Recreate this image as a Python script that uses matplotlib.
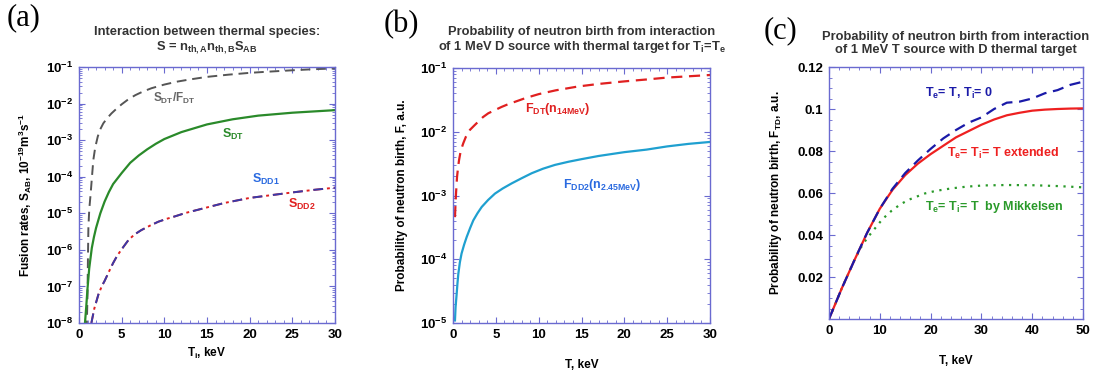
import numpy as np
import matplotlib
matplotlib.use('Agg')
import matplotlib.pyplot as plt
from matplotlib.ticker import MultipleLocator, FixedLocator, NullFormatter

plt.rcParams['font.family'] = ['Liberation Sans', 'DejaVu Sans']
plt.rcParams['font.weight'] = 'bold'
plt.rcParams['axes.titleweight'] = 'bold'
plt.rcParams['axes.labelweight'] = 'bold'
plt.rcParams['mathtext.fontset'] = 'custom'
plt.rcParams['mathtext.rm'] = 'Liberation Sans:bold'
plt.rcParams['mathtext.bf'] = 'Liberation Sans:bold'
plt.rcParams['mathtext.it'] = 'Liberation Sans:bold'
plt.rcParams['mathtext.default'] = 'bf'

# ---- panel (a): thermal fusion rates (log10 values) ----
a_t_sdtf = [0.9, 1.0, 1.05, 1.1, 1.2, 1.37, 1.52, 1.68, 1.9, 2.2, 2.5, 2.85, 3.3, 3.8, 4.4,
            5.0, 5.8, 6.6, 7.5, 8.5, 10, 11.5, 13, 15, 17.5, 20, 22, 25, 27.5, 30]
a_log_sdtf = [-8.2, -7.2, -6.2, -5.4, -4.9, -4.45, -4.0, -3.54, -3.2, -2.9, -2.7, -2.54,
              -2.4, -2.27, -2.14, -2.02, -1.88, -1.77, -1.67, -1.58, -1.48, -1.40, -1.34,
              -1.27, -1.21, -1.16, -1.13, -1.09, -1.06, -1.04]
a_t_sdt = [0.7, 0.85, 1.0, 1.2, 1.5, 1.75, 2.0, 2.5, 3.0, 3.5, 4.0, 5.0, 6.0, 7.0, 8.0, 9.0,
           10, 12, 15, 18, 21, 25, 30]
a_log_sdt = [-8.0, -7.55, -7.05, -6.5, -5.95, -5.65, -5.4, -5.0, -4.68, -4.42, -4.2, -3.9,
             -3.62, -3.42, -3.25, -3.1, -2.97, -2.78, -2.57, -2.43, -2.33, -2.25, -2.18]
a_t_sdd = [1.45, 1.8, 2.3, 2.7, 3.0, 3.5, 4.0, 4.5, 5.2, 5.8, 6.5, 7.3, 8.3, 9.3, 10.3, 11.3,
           12.5, 14, 15.5, 17, 18.5, 20, 22, 25, 27.5, 30]
a_log_sdd = [-8.0, -7.6, -7.2, -6.98, -6.85, -6.6, -6.36, -6.15, -5.92, -5.73, -5.58, -5.46,
             -5.34, -5.23, -5.15, -5.08, -4.99, -4.9, -4.81, -4.72, -4.65, -4.58, -4.52,
             -4.43, -4.36, -4.3]

# ---- panel (b): 1 MeV D source ----
b_t_fdt = [0.23, 0.3, 0.35, 0.42, 0.47, 0.6, 0.7, 0.9, 1.2, 1.5, 1.98, 2.5, 2.96, 3.5, 4.12,
           4.9, 5.68, 6.4, 7.24, 8.5, 10, 12, 14.6, 17, 20, 22.6, 25, 27.5, 30]
b_log_fdt = [-3.34, -3.1, -2.97, -2.82, -2.71, -2.55, -2.45, -2.3, -2.18, -2.08, -1.97, -1.9,
             -1.84, -1.77, -1.71, -1.66, -1.61, -1.57, -1.53, -1.47, -1.41, -1.35, -1.29,
             -1.25, -1.21, -1.18, -1.15, -1.13, -1.11]
b_t_fdd = [0.23, 0.3, 0.43, 0.52, 0.62, 0.8, 1.0, 1.3, 1.6, 2.0, 2.37, 2.85, 3.35, 4.1, 4.9,
           5.8, 6.85, 8, 9.2, 10.5, 11.9, 13.5, 15, 17, 18.5, 20, 22.6, 25, 27.5, 30]
b_log_fdd = [-4.96, -4.75, -4.54, -4.38, -4.23, -4.05, -3.91, -3.77, -3.65, -3.51, -3.39,
             -3.28, -3.18, -3.07, -2.97, -2.89, -2.81, -2.73, -2.65, -2.58, -2.52, -2.47,
             -2.43, -2.38, -2.35, -2.32, -2.28, -2.23, -2.19, -2.16]

# ---- panel (c): 1 MeV T source on D target ----
c_t = [0, 2.5, 5, 7.5, 10, 12.5, 15, 17.5, 20, 22.5, 25, 27.5, 30, 32.5, 35, 37.5, 40, 42.5,
       45, 47.5, 50]
c_ext = [0, 0.0145, 0.028, 0.041, 0.0525, 0.0615, 0.0685, 0.074, 0.0785, 0.0825, 0.0865,
         0.0895, 0.0925, 0.095, 0.097, 0.0982, 0.0992, 0.0997, 0.1, 0.1002, 0.1003]
c_ti0 = [0, 0.0145, 0.028, 0.041, 0.0525, 0.062, 0.0695, 0.0755, 0.081, 0.086, 0.09, 0.0935,
         0.096, 0.1, 0.103, 0.1035, 0.105, 0.1075, 0.109, 0.1115, 0.113]
c_mik_t = [0, 2.5, 5, 6.4, 7.5, 9, 10.5, 12.3, 14, 15.6, 17.5, 18.9, 21, 24.1, 27, 30.4, 35,
           40.2, 45, 50]
c_mik = [0, 0.0145, 0.028, 0.0345, 0.0385, 0.043, 0.0475, 0.0515, 0.0545, 0.0567, 0.0585,
         0.0598, 0.061, 0.0622, 0.063, 0.0636, 0.0638, 0.0637, 0.0633, 0.0627]

FRAME = '#6a6ad0'
W, H = 1095, 371
fig = plt.figure(figsize=(W / 100, H / 100), dpi=100)


def make_ax(l, r, t, b):
    ax = fig.add_axes([l / W, (H - b) / H, (r - l) / W, (b - t) / H])
    for s in ax.spines.values():
        s.set_color(FRAME)
        s.set_linewidth(1.0)
    ax.tick_params(which='both', direction='in', top=True, right=True, color=FRAME,
                   labelsize=9.5, pad=4)
    ax.tick_params(which='major', length=4)
    ax.tick_params(which='minor', length=2)
    return ax


def bold_ticks(ax):
    for lab in ax.get_xticklabels() + ax.get_yticklabels():
        lab.set_fontweight('bold')


def log_ticks(ax, lo, hi):
    ax.set_yscale('log')
    ax.set_ylim(10.0 ** lo, 10.0 ** hi)
    ax.yaxis.set_major_locator(FixedLocator([10.0 ** k for k in range(lo, hi + 1)]))
    ax.set_yticklabels([r'$10^{%d}$' % k for k in range(lo, hi + 1)])
    minors = [m * 10.0 ** k for k in range(lo, hi) for m in range(2, 10)]
    ax.yaxis.set_minor_locator(FixedLocator(minors))
    ax.yaxis.set_minor_formatter(NullFormatter())


TITLE_KW = dict(fontsize=9.3, color='#333333', linespacing=1.1, fontweight='bold')

# (a)
ax = make_ax(79, 335, 67, 323)
ax.plot(a_t_sdtf, 10.0 ** np.array(a_log_sdtf), color='#555555', lw=1.4, ls=(0, (5, 3)))
ax.plot(a_t_sdt, 10.0 ** np.array(a_log_sdt), color='#2a8a2a', lw=1.6)
ax.plot(a_t_sdd, 10.0 ** np.array(a_log_sdd), color='#e02020', lw=1.4, ls=(0, (5, 2, 1.5, 2)))
ax.plot(a_t_sdd, 10.0 ** np.array(a_log_sdd), color='#3a3aa8', lw=1.4, ls=(0, (5, 5.5)))
ax.set_xlim(0, 30)
ax.xaxis.set_major_locator(MultipleLocator(5))
ax.xaxis.set_minor_locator(MultipleLocator(1))
log_ticks(ax, -8, -1)
bold_ticks(ax)
ax.set_xlabel(r'T$_i$, keV', fontsize=8.5, labelpad=4)
ax.set_ylabel(r'Fusion rates, S$_{AB}$, 10$^{-19}$m$^3$s$^{-1}$', fontsize=8.5, labelpad=9)
ax.set_title('Interaction between thermal species:\n' + r'S = n$_{th,A}$n$_{th,B}$S$_{AB}$',
             pad=12, **TITLE_KW)
ax.text(0.29, 0.862, r'S$_{DT}$/F$_{DT}$', transform=ax.transAxes, color='#666666', fontsize=8.5)
ax.text(0.559, 0.723, r'S$_{DT}$', transform=ax.transAxes, color='#2a8a2a', fontsize=9)
ax.text(0.676, 0.547, r'S$_{DD1}$', transform=ax.transAxes, color='#2a6ae0', fontsize=9)
ax.text(0.816, 0.449, r'S$_{DD2}$', transform=ax.transAxes, color='#e02020', fontsize=9)

# (b)
ax = make_ax(453, 710, 68, 323)
ax.plot(b_t_fdt, 10.0 ** np.array(b_log_fdt), color='#e02020', lw=1.6, ls=(0, (5, 3)))
ax.plot(b_t_fdd, 10.0 ** np.array(b_log_fdd), color='#1fa0d0', lw=1.6)
ax.set_xlim(0, 30)
ax.xaxis.set_major_locator(MultipleLocator(5))
ax.xaxis.set_minor_locator(MultipleLocator(1))
log_ticks(ax, -5, -1)
bold_ticks(ax)
ax.set_xlabel('T, keV', fontsize=8.5, labelpad=13)
ax.set_ylabel('Probability of neutron birth, F, a.u.', fontsize=8.5, labelpad=9)
ax.set_title('Probability of neutron birth from interaction\n'
             + r'of 1 MeV D source with thermal target for T$_i$=T$_e$',
             pad=13, **TITLE_KW)
ax.text(0.28, 0.827, r'F$_{DT}$(n$_{14MeV}$)', transform=ax.transAxes, color='#e02020',
        fontsize=9)
ax.text(0.428, 0.529, r'F$_{DD2}$(n$_{2.45MeV}$)', transform=ax.transAxes, color='#2a6ae0',
        fontsize=9)

# (c)
ax = make_ax(829, 1083, 67, 319)
ax.plot(c_mik_t, c_mik, color='#2a9a2a', lw=1.6, ls=(0, (1, 2.5)))
ax.plot(c_t, c_ext, color='#ee2020', lw=1.6)
ax.plot(c_t, c_ti0, color='#1a1aa8', lw=1.6, ls=(0, (5, 3)))
ax.set_xlim(0, 50)
ax.set_ylim(0, 0.12)
ax.xaxis.set_major_locator(MultipleLocator(10))
ax.xaxis.set_minor_locator(MultipleLocator(2))
ax.yaxis.set_major_locator(FixedLocator([0.02, 0.04, 0.06, 0.08, 0.1, 0.12]))
ax.set_yticklabels(['0.02', '0.04', '0.06', '0.08', '0.1', '0.12'])
ax.yaxis.set_minor_locator(MultipleLocator(0.005))
bold_ticks(ax)
ax.set_xlabel('T, keV', fontsize=8.5, labelpad=13)
ax.set_ylabel(r'Probability of neutron birth, F$_{TD}$, a.u.', fontsize=8.5, labelpad=10)
ax.set_title('Probability of neutron birth from interaction\n'
             'of 1 MeV T source with D thermal target',
             pad=10, **TITLE_KW)
ax.text(0.378, 0.881, r'T$_e$= T, T$_i$= 0', transform=ax.transAxes, color='#1a1aa8', fontsize=9)
ax.text(0.465, 0.643, r'T$_e$= T$_i$= T extended', transform=ax.transAxes, color='#ee2020',
        fontsize=9)
ax.text(0.378, 0.433, r'T$_e$= T$_i$= T  by Mikkelsen', transform=ax.transAxes, color='#2a9a2a',
        fontsize=9)

for lab, x, y in [('(a)', 7, 18), ('(b)', 384, 25), ('(c)', 764, 31)]:
    fig.text(x / W, 1 - y / H, lab, fontsize=22, family=['Liberation Serif', 'DejaVu Serif'],
             weight='normal', va='center', ha='left')

fig.savefig('out.png', dpi=100)
